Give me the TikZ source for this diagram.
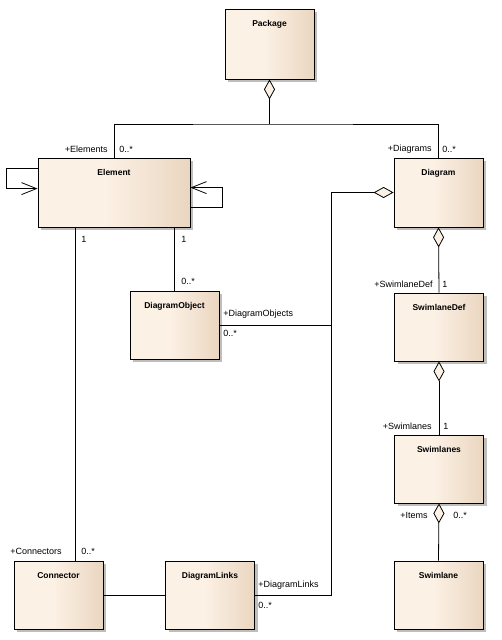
\documentclass[tikz,border=0pt]{standalone}
\usepackage{fontspec}
\setmainfont{Liberation Sans}
\usetikzlibrary{arrows.meta, shadows}
\definecolor{umllight}{RGB}{252, 241, 229}
\definecolor{umldark}{RGB}{234, 214, 192}
\definecolor{umlshadow}{RGB}{190, 190, 190}
\pgfdeclarehorizontalshading{umlfill}{100bp}{color(0bp)=(umllight); color(47bp)=(umllight); color(75bp)=(umldark); color(100bp)=(umldark)}

\begin{document}
\begin{tikzpicture}[
    x = 1pt, y = -1pt,
    cls/.style = {draw, line width = 0.8, shade, shading = umlfill,
        minimum width = 89, minimum height = 68, inner sep = 0,
        drop shadow = {shadow xshift = 3pt, shadow yshift = -3pt, fill = umlshadow, opacity = 1},
        label = {[anchor = base, yshift = -18pt, font = \fontsize{8.5}{10}\selectfont\bfseries]north:#1}},
    lbl/.style = {font = \fontsize{9}{10}\selectfont, inner sep = 0},
    agg/.style = {line width = 0.8, {Diamond[length = 20pt, width = 11pt, fill = umllight]}-},
    nav/.style = {line width = 0.8, -{Straight Barb[length = 15pt, width = 12pt]}},
    every path/.style = {line width = 0.8}
]

\path[use as bounding box, fill = white] (0,0) rectangle (501,640);

% classes
\node[cls = Package, minimum height = 70] (pkg) at (269.5, 44) {};
\node[cls = Element, minimum width = 152, minimum height = 69] (elem) at (114, 192.5) {};
\node[cls = Diagram, minimum height = 69] (diag) at (438.5, 192.5) {};
\node[cls = DiagramObject] (dobj) at (174.5, 325) {};
\node[cls = SwimlaneDef] (sdef) at (439, 327) {};
\node[cls = Swimlanes] (slanes) at (439, 469) {};
\node[cls = Swimlane] (slane) at (438.5, 595) {};
\node[cls = Connector] (conn) at (58.5, 595) {};
\node[cls = DiagramLinks] (dlinks) at (210, 595) {};

% Package
\coordinate (pkgj) at (269.5, 124);
\draw[agg] (pkg.south) -- (pkgj);
\draw (elem.north) |- (pkgj) -| (diag.north);
\node[lbl, anchor = east] (elemrole) at (108, 149) {+Elements};
\node[lbl, anchor = west] (elemmult) at (119, 149) {0..*};
\node[lbl, anchor = east] (diagrole) at (432, 149) {+Diagrams};
\node[lbl, anchor = west] (diagmult) at (442, 149) {0..*};

% Element
\draw[nav] ([yshift = -11pt]elem.north west) -- ++(-31, 0) -- ++(0, 20) -- ([yshift = -31pt]elem.north west);
\draw[nav] ([yshift = -50pt]elem.north east) -- ++(32, 0) -- ++(0, -20) -- ([yshift = -30pt]elem.north east);
\draw (elem.south -| dobj.north) -- (dobj.north);
\coordinate (connup) at ([xshift = 16.5pt]conn.north);
\draw (connup |- elem.south) -- (connup);
\node[lbl, anchor = west] (elemone) at (81, 239) {1};
\node[lbl, anchor = west] (elemtwo) at (181, 239) {1};
\node[lbl, anchor = west] (dobjmult) at (181, 281) {0..*};
\node[lbl, anchor = east] (connrole) at (62, 551) {+Connectors};
\node[lbl, anchor = west] (connmult) at (81, 551) {0..*};

% Diagram
\coordinate (bus) at (331.5, 192.5);
\draw[agg] (diag.west) -- (bus) |- (dlinks.east);
\draw (dobj.east) -- (dobj.east -| bus);
\node[lbl, anchor = west] (dobjrole) at (223, 314) {+DiagramObjects};
\node[lbl, anchor = west] (dobjmulttwo) at (223, 333) {0..*};
\node[lbl, anchor = west] (dlinksrole) at (258, 585) {+DiagramLinks};
\node[lbl, anchor = west] (dlinksmult) at (258, 605) {0..*};
\draw (conn.east) -- (dlinks.west);

% swimlanes
\draw[agg] (diag.south) -- (sdef.north);
\draw[agg] (sdef.south) -- (slanes.north);
\draw[agg] (slanes.south) -- (slane.north);
\node[lbl, anchor = east] (sdefrole) at (433, 284) {+SwimlaneDef};
\node[lbl, anchor = west] (sdefmult) at (442, 284) {1};
\node[lbl, anchor = east] (slanesrole) at (432, 426) {+Swimlanes};
\node[lbl, anchor = west] (slanesmult) at (443, 426) {1};
\node[lbl, anchor = east] (slanerole) at (428, 515) {+Items};
\node[lbl, anchor = west] (slanemult) at (453, 515) {0..*};

\end{tikzpicture}
\end{document}
